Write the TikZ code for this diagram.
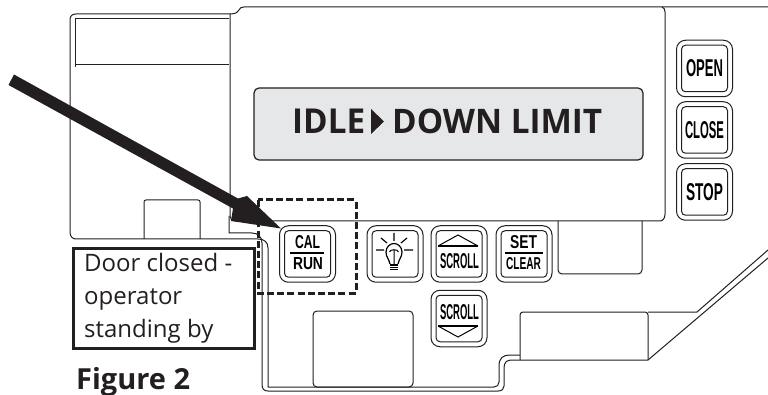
\documentclass[tikz,border=0pt]{standalone}
\usepackage{fontspec}
\usepackage{graphicx}
\setmainfont{Open Sans}
\setsansfont{Liberation Sans}
\definecolor{ink}{HTML}{231F20}
\definecolor{lcd}{HTML}{E6E7E8}
\tikzset{
  pline/.style={draw=ink,line width=1pt},
  keyouter/.style={pline,rounded corners=9pt,minimum width=56pt,minimum height=56.5pt,inner sep=0pt},
  keyinner/.style={pline,rounded corners=4pt,minimum width=46pt,minimum height=46.5pt,inner sep=0pt},
  keylabel/.style={inner sep=0pt,text=black},
  keyrule/.style={draw=black,line width=1.2pt},
  note/.style={draw=ink,line width=3pt,minimum width=181pt,minimum height=99pt,inner sep=0pt},
  notetext/.style={inner sep=0pt,anchor=base west,font=\fontsize{24}{24}\selectfont,text=ink},
  lcdtext/.style={inner sep=0pt,anchor=base,text=ink},
}
\newcommand{\fitlabel}[3]{\resizebox{#1pt}{#2pt}{\sffamily\bfseries #3}}
\newcommand{\panelkey}[3]{%
  \node[keyouter] (#1) at (#2,#3) {};
  \node[keyinner] (#1in) at (#2,#3) {};
}
\begin{document}
\begin{tikzpicture}[x=1pt,y=-1pt]
\useasboundingbox (0,0) rectangle (768,395);
\fill[white] (0,0) rectangle (768,395);

% left housing
\draw[pline] (230,14) -- (76,14) .. controls (72,14) and (70,16) .. (70,20) -- (70,232)
  .. controls (70,236) and (72,239) .. (76,239) -- (258,239);
\draw[pline] (75,67) -- (75,19) -- (229,19);
\draw[pline] (75,65) -- (229,65);
\draw[pline,rounded corners=2pt] (144,239) -- (144,200) -- (200,200) -- (200,239);

% main panel
\draw[pline] (230,14) .. controls (236,14) and (238,12) .. (239,10) .. controls (240,8) and (241,7) .. (244,7) -- (768,7);
\draw[pline] (662,7) .. controls (664,8) and (665,9) .. (665,12) -- (665,214)
  .. controls (665,218) and (663,221) .. (660,221) -- (235,221)
  .. controls (232,221) and (230,219) .. (230,216) -- (230,14);
\draw[pline] (229,216) -- (229,233) -- (252,233)
  .. controls (258,233) and (262,237) .. (262,243) -- (262,384)
  .. controls (262,389) and (264,391) .. (268,391) -- (498,391)
  .. controls (502,391) and (504,389) .. (504,386) -- (504,368)
  .. controls (504,362) and (507,360) .. (512,360) -- (520,360);
\draw[pline] (258,239) .. controls (264,239) and (268,242) .. (268,248) -- (268,387) -- (494,387)
  .. controls (497,387) and (499,385) .. (499,382) -- (499,366)
  .. controls (499,358) and (503,355) .. (510,355) -- (520,355);

% lower boxes
\draw[pline,rounded corners=4pt] (313,311) rectangle (413,387);
\draw[pline,rounded corners=4pt] (558,221) -- (558,274) -- (642,274) -- (642,221);
\draw[pline,rounded corners=3pt] (520,360) -- (520,312) -- (648,312) -- (648,360);
\draw[pline] (520,360) -- (648,360) -- (768,258);
\draw[pline] (648,312) -- (697,312) -- (768,250);

% display
\node[draw=ink,line width=1.2pt,fill=lcd,rounded corners=5pt,minimum width=389pt,minimum height=72pt,inner sep=0pt] (display) at (448.5,124) {};
\node[lcdtext,anchor=base west] (idle) at (292,133.5) {\resizebox{73pt}{24.5pt}{\bfseries IDLE}};
\node[lcdtext,anchor=base west] (limit) at (392,133.5) {\resizebox{210pt}{24.5pt}{\bfseries DOWN LIMIT}};
\fill[ink] (371,109) -- (384,121.5) -- (371,134) -- cycle;

% right keys
\panelkey{open}{704.5}{68.5}
\panelkey{close}{704.5}{130}
\panelkey{stop}{704.5}{192}
\node[keylabel] (openl) at (704.5,68.5) {\fitlabel{37}{17}{OPEN}};
\node[keylabel] (closel) at (704.5,130) {\fitlabel{39}{17}{CLOSE}};
\node[keylabel] (stopl) at (704.5,192) {\fitlabel{37}{17}{STOP}};

% bottom keys
\panelkey{cal}{307.5}{254}
\panelkey{bulb}{395}{254}
\panelkey{scrollup}{459}{254}
\panelkey{setclear}{524}{254}
\panelkey{scrolldn}{459}{318.5}

\node[keylabel] (call) at (307.5,242.5) {\fitlabel{25}{13}{CAL}};
\draw[keyrule] (290,253) -- (324,253);
\node[keylabel] (runl) at (308,264) {\fitlabel{30}{12}{RUN}};
\node[keylabel] (setl) at (523.5,242.5) {\fitlabel{27}{13}{SET}};
\draw[keyrule] (505,253) -- (543,253);
\node[keylabel] (clearl) at (523.5,264) {\fitlabel{35}{12}{CLEAR}};

\node[keylabel] (su) at (459.5,261.5) {\fitlabel{39}{15}{SCROLL}};
\draw[line width=1pt,draw=black] (438,246) -- (458,235) -- (478,246);
\draw[line width=1.6pt,draw=black] (438,246) -- (478,246);
\node[keylabel] (sd) at (459.5,312.5) {\fitlabel{39}{15}{SCROLL}};
\draw[line width=1.6pt,draw=black] (438,326) -- (478,326);
\draw[line width=1pt,draw=black] (438,326) -- (458,337) -- (478,326);

% bulb
\draw[line width=1.2pt,draw=black] (390,264) .. controls (389,259) and (386,257) .. (386,252)
  .. controls (386,247) and (390,243.5) .. (394,243.5)
  .. controls (398,243.5) and (402,247) .. (402,252)
  .. controls (402,257) and (399,259) .. (398,264);
\fill[black] (390,264) rectangle (398,270);
\draw[white,line width=0.5pt] (390,266) -- (398,266) (390,268) -- (398,268);
\draw[line width=1pt,draw=black] (394,264) -- (394,250) (389.5,252) .. controls (390,249) and (398,249) .. (398.5,252);
\draw[line width=1.2pt,draw=black] (394,233) -- (394,241) (381,238) -- (387,243) (407,238) -- (401,243)
  (376,250) -- (384,250) (404,250) -- (413,250);

% dashed frame
\draw[draw=ink,line width=3pt,dash pattern=on 7pt off 3.2pt] (258,200) rectangle (356,293);

% note
\node[note,fill=white] (notebox) at (163.5,298.5) {};
\node[notetext] (l1) at (84,272) {Door closed -};
\node[notetext] (l2) at (84,305) {operator};
\node[notetext] (l3) at (84,337) {standing by};
\node[inner sep=0pt,anchor=base west,font=\fontsize{29}{29}\selectfont\bfseries,text=ink] (fig) at (76,389) {Figure 2};

% pointer
\fill[ink] (14,74.5) -- (238,198.5) -- (247,196) -- (281,228.5) -- (231,221) -- (233,208.5) -- (8.5,85) -- cycle;
\end{tikzpicture}
\end{document}
